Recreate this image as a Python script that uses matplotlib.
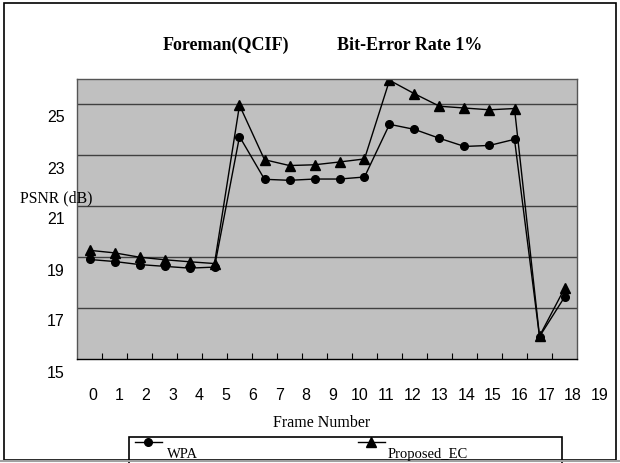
import numpy as np
import matplotlib
matplotlib.use('Agg')
import matplotlib.pyplot as plt
from matplotlib.lines import Line2D
from matplotlib.patches import Rectangle

frames = list(range(20))
wpa = [18.91, 18.83, 18.71, 18.64, 18.57, 18.61, 23.74, 22.06, 22.02, 22.07,
       22.07, 22.15, 24.22, 24.02, 23.67, 23.35, 23.39, 23.63, 15.88, 17.43]
proposed = [19.27, 19.17, 19.00, 18.90, 18.82, 18.75, 24.97, 22.83, 22.60, 22.63,
            22.74, 22.86, 25.95, 25.42, 24.93, 24.86, 24.79, 24.84, 15.90, 17.77]
yticks = [15, 17, 19, 21, 23, 25]

W, H = 620, 464
fig = plt.figure(figsize=(6.2, 4.64), dpi=100)

def px(x, y):
    # pixel coords (origin top-left) -> figure fraction
    return x / W, 1 - y / H

ax = fig.add_axes([77 / W, 1 - 360 / H, 500 / W, 280 / H])
ax.set_facecolor('#c0c0c0')
ax.plot(frames, wpa, color='black', lw=1, marker='o', ms=5.5)
ax.plot(frames, proposed, color='black', lw=1, marker='^', ms=6.5)
ax.set_xlim(-0.5, 19.5)
ax.set_ylim(15, 26)
for v in yticks[1:]:
    ax.axhline(v, color='#404040', lw=1, zorder=0.5)
for s in ax.spines.values():
    s.set_color('#555555')
    s.set_linewidth(1)
ax.spines['bottom'].set_color('black')

# ticks between categories, labels drawn separately (offset like the original)
ax.set_xticks(np.arange(0.5, 19.5, 1))
ax.set_xticklabels([])
ax.tick_params(axis='x', direction='in', length=4, color='black')
ax.set_yticks([])

for i, f in enumerate(frames):
    fig.text(*px(92.5 + i * 26.7, 396), str(f), ha='center', va='center',
             fontsize=11.5, family='Liberation Sans')
for v in yticks:
    ypix = 360 - (v - 15) * 25.5 + 13
    fig.text(*px(56, ypix), str(v), ha='center', va='center',
             fontsize=11.5, family='Liberation Sans')

fig.text(*px(56, 198), 'PSNR (dB)', ha='center', va='center',
         fontsize=11.3, family='Liberation Serif')
fig.text(*px(322, 423), 'Frame Number', ha='center', va='center',
         fontsize=11.5, family='Liberation Serif')
fig.text(*px(163, 45), 'Foreman(QCIF)', ha='left', va='center',
         fontsize=13, fontweight='bold', family='Liberation Serif')
fig.text(*px(482, 45), 'Bit-Error Rate 1%', ha='right', va='center',
         fontsize=13, fontweight='bold', family='Liberation Serif')

# outer chart border
fig.patches.append(Rectangle(px(4, 461), 612 / W, 457 / H, transform=fig.transFigure,
                             fill=False, edgecolor='black', lw=1.2))
fig.add_artist(Line2D([0, 1], [1 - 461.5 / H] * 2, transform=fig.transFigure,
                      color='#a0a0a0', lw=1.5))

# legend box (cut by the bottom edge like the original)
fig.patches.append(Rectangle(px(129, 466), 433 / W, 28 / H, transform=fig.transFigure,
                             fill=False, edgecolor='black', lw=1.2))
fig.add_artist(Line2D([135 / W, 162 / W], [1 - 443 / H] * 2, transform=fig.transFigure,
                      color='black', lw=1))
fig.add_artist(Line2D([148 / W], [1 - 443 / H], transform=fig.transFigure,
                      color='black', marker='o', ms=5.5, ls='none'))
fig.add_artist(Line2D([358 / W, 385 / W], [1 - 443 / H] * 2, transform=fig.transFigure,
                      color='black', lw=1))
fig.add_artist(Line2D([371 / W], [1 - 443 / H], transform=fig.transFigure,
                      color='black', marker='^', ms=6.5, ls='none'))
fig.text(*px(167, 455), 'WPA', ha='left', va='center', fontsize=10.5,
         family='Liberation Serif')
fig.text(*px(388, 455), 'Proposed_EC', ha='left', va='center', fontsize=10.5,
         family='Liberation Serif')

fig.savefig('out.png', dpi=100)
